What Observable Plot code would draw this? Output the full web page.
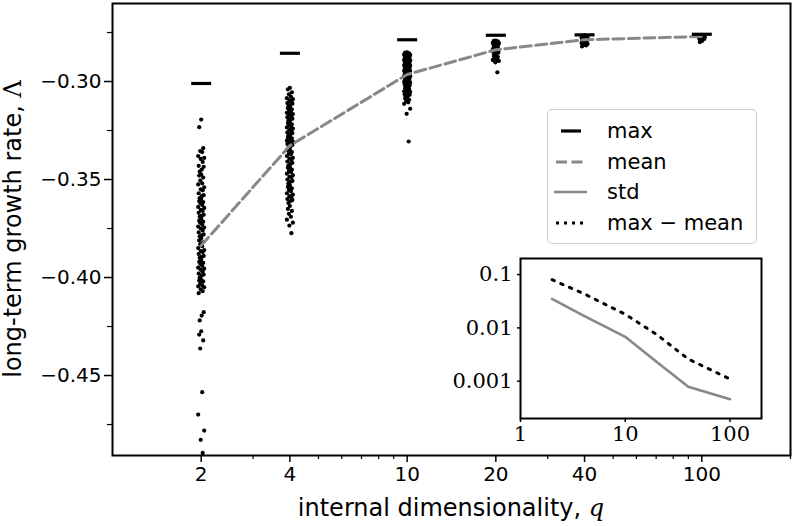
<!DOCTYPE html>
<html><head><meta charset="utf-8">
<script src="https://cdn.jsdelivr.net/npm/d3@7"></script>
<script src="https://cdn.jsdelivr.net/npm/@observablehq/plot@0.6"></script>
<style>
body{margin:0;background:#fff;}
#wrap{position:relative;width:796px;height:526px;overflow:hidden;font-family:"DejaVu Sans",sans-serif;background:#fff;}
#wrap > svg{position:absolute;}
#legend{position:absolute;left:547px;top:109px;width:210px;height:135px;box-sizing:border-box;border:1.5px solid #ccc;border-radius:5px;background:rgba(255,255,255,0.85);}
#legend svg{position:absolute;left:0;top:0;}
</style></head><body><div id="wrap"></div>
<script>
// ---------- data ----------
const qValues = [2, 4, 10, 20, 40, 100];
const maxValues = [-0.301, -0.2856, -0.2787, -0.2764, -0.2762, -0.2759];
const meanValues = [-0.3837, -0.3327, -0.2964, -0.2838, -0.2787, -0.2770];
const stdValues = [0.035, 0.017, 0.0068, 0.0023, 0.00079, 0.00046];
const maxMinusMeanValues = [0.080, 0.044, 0.018, 0.0075, 0.0026, 0.0011];
const yTicks = [-0.30, -0.35, -0.40, -0.45];
const yMinorTicks = [-0.275, -0.325, -0.375, -0.425, -0.475];
const xTicks = [2, 4, 10, 20, 40, 100];
const xMinorTicks = [3, 5, 6, 7, 8, 9, 30, 50, 60, 70, 80, 90, 200];
const insetXTicks = [1, 10, 100];
const insetYTicks = [0.1, 0.01, 0.001];
const insetYLabels = ["0.1", "0.01", "0.001"];

const lambdaQ2 = [-0.3194, -0.3233,
 -0.334, -0.3355, -0.336, -0.338, -0.339, -0.3395, -0.341, -0.343, -0.3435, -0.345, -0.346, -0.3475, -0.348, -0.349, -0.3505, -0.352, -0.3525, -0.354, -0.355, -0.3555, -0.357, -0.358, -0.3585, -0.3595, -0.360, -0.361,
 -0.3615, -0.362, -0.363, -0.364, -0.3645, -0.3655, -0.366, -0.367, -0.368, -0.3685, -0.369, -0.370, -0.371, -0.3715, -0.372, -0.373, -0.374, -0.3745, -0.375, -0.376, -0.377, -0.378, -0.3785, -0.379, -0.380, -0.381, -0.382, -0.383, -0.384, -0.385,
 -0.386, -0.3865, -0.387, -0.388, -0.389, -0.3895, -0.390, -0.391, -0.392, -0.3925, -0.393, -0.394, -0.395, -0.3955, -0.396, -0.397, -0.398, -0.3985, -0.399, -0.400, -0.401, -0.4015, -0.402, -0.403, -0.404, -0.4045, -0.405, -0.406, -0.407, -0.408,
 -0.4177, -0.4194, -0.4219, -0.4274, -0.4291, -0.4321, -0.4362, -0.4585, -0.4699, -0.4781, -0.4828, -0.4895];
const lambdaQ4 = [-0.3032, -0.304, -0.3055, -0.3065, -0.3078,
 -0.3085, -0.309, -0.3098, -0.3102, -0.311, -0.3113, -0.312, -0.3127, -0.313, -0.3136, -0.3142, -0.315, -0.3153, -0.316, -0.3166, -0.317, -0.3178, -0.3182, -0.319, -0.3193, -0.32, -0.3205, -0.3212, -0.3218, -0.3221, -0.323, -0.3234, -0.324, -0.3248, -0.3251, -0.326, -0.3263, -0.327, -0.3276, -0.3281, -0.3285, -0.329, -0.3294, -0.3297, -0.3302, -0.3306, -0.3311, -0.3315, -0.3319, -0.3324,
 -0.3331, -0.334, -0.3347, -0.3352, -0.336, -0.3368, -0.3373, -0.338, -0.3389, -0.3394, -0.34, -0.3408, -0.3415, -0.342, -0.3429, -0.3436, -0.344, -0.345, -0.3457, -0.3463, -0.347, -0.3478, -0.3486, -0.349, -0.35, -0.3507, -0.3512, -0.352, -0.353, -0.3538, -0.3545, -0.3553, -0.356, -0.357, -0.3577, -0.3585, -0.3592, -0.36, -0.3605, -0.361,
 -0.362, -0.3635, -0.365, -0.366, -0.3675, -0.369, -0.3705, -0.372, -0.3735, -0.3774];
const lambdaQ10 = [-0.2851, -0.2853, -0.2856, -0.2858, -0.286, -0.2862, -0.2864, -0.2866, -0.2868, -0.2870, -0.2872, -0.2874, -0.2876, -0.2878, -0.2880,
 -0.2882, -0.2885, -0.2887, -0.2889, -0.2891, -0.2893, -0.2895, -0.2897, -0.2899, -0.2901, -0.2903, -0.2906, -0.2908, -0.291, -0.2912, -0.2914, -0.2916, -0.2918, -0.292, -0.2922, -0.2925, -0.2927, -0.2929, -0.2931, -0.2933, -0.2935, -0.2937, -0.2939, -0.2941, -0.2944, -0.2946, -0.2948, -0.295, -0.2952, -0.2954, -0.2956, -0.2958, -0.296, -0.2963, -0.2965, -0.2967, -0.2969, -0.2971, -0.2973, -0.2975, -0.2977, -0.2979, -0.2982, -0.2984, -0.2986, -0.2988, -0.299, -0.2993, -0.2996, -0.2999,
 -0.3002, -0.3006, -0.301, -0.3013, -0.3017, -0.302, -0.3024, -0.3028, -0.3031, -0.3035, -0.3038, -0.3042, -0.3046, -0.305, -0.3053, -0.3057, -0.3061, -0.3065, -0.3068, -0.3072, -0.3076, -0.308,
 -0.3086, -0.3093, -0.3099, -0.3106, -0.3114, -0.3139, -0.3165, -0.3306];
const lambdaQ20 = [-0.2791, -0.2793, -0.2795, -0.2797, -0.2799, -0.2801, -0.2803, -0.2805, -0.2808, -0.281, -0.2812, -0.2815, -0.2818, -0.282, -0.2823, -0.2826, -0.2829, -0.2832, -0.2835, -0.2838, -0.2841, -0.2845, -0.2849, -0.2853, -0.2857, -0.2861, -0.2866, -0.287, -0.2875, -0.288, -0.2885, -0.289, -0.2895, -0.2902, -0.2953];
const lambdaQ40 = [-0.2765, -0.2767, -0.2769, -0.2771, -0.2773, -0.2775, -0.2777, -0.2779, -0.2781, -0.2783, -0.2785, -0.2787, -0.2789, -0.2791, -0.2793, -0.2795, -0.2798, -0.2801, -0.2804, -0.2808, -0.2812, -0.2816, -0.2821];
const lambdaQ100 = [-0.2762, -0.2764, -0.2766, -0.2768, -0.277, -0.2772, -0.2774, -0.2776, -0.2778, -0.278, -0.2783, -0.2786, -0.279, -0.2794, -0.2799];

// ---------- layout / styling ----------
const W = 796, H = 526, mL = 112, mR = 6, mT = 3, mB = 71;
const xDomain = [1, 200];
const pxPerDecade = (W - mL - mR) / Math.log10(xDomain[1] / xDomain[0]);
const jitterPx = [0, -2, 2, -1, 1, -3, 3, -0.5, 1.5, -2.5, 2.5, 0.5, -1.5];

const groups = [[2, lambdaQ2], [4, lambdaQ4], [10, lambdaQ10], [20, lambdaQ20], [40, lambdaQ40], [100, lambdaQ100]];
const points = [];
groups.forEach(([q, vals]) => vals.forEach((v, i) => points.push({q, v, j: jitterPx[i % jitterPx.length]})));
const summary = qValues.map((q, i) => ({q, max: maxValues[i], mean: meanValues[i], std: stdValues[i], gap: maxMinusMeanValues[i]}));

const hline = {draw(ctx) { ctx.moveTo(-10, 0); ctx.lineTo(10, 0); }};

const main = Plot.plot({
  width: W, height: H, marginLeft: mL, marginRight: mR, marginTop: mT, marginBottom: mB,
  x: {type: "log", domain: xDomain},
  y: {domain: [-0.4908, -0.2602]},
  style: {fontFamily: "DejaVu Sans", fontSize: "20px", color: "black", background: "white"},
  marks: [
    Plot.dot(points, {x: d => d.q * Math.pow(10, d.j / pxPerDecade), y: "v", r: 2.1, fill: "black", stroke: "none", clip: true}),
    Plot.line(summary, {x: "q", y: "mean", stroke: "#888", strokeWidth: 3, strokeDasharray: "11,4.5"}),
    Plot.dot(summary, {x: "q", y: "max", symbol: hline, stroke: "black", strokeWidth: 3.2, fill: "none", r: 10}),
    Plot.axisY({ticks: yTicks, tickFormat: d3.format(".2f"), tickSize: 8, tickPadding: 3, label: null, strokeWidth: 1.5}),
    Plot.axisY({ticks: yMinorTicks, tickFormat: () => "", tickSize: 5, label: null, strokeWidth: 1.2}),
    Plot.axisX({ticks: xTicks, tickFormat: d => String(d), tickSize: 7, tickPadding: 4, label: null, strokeWidth: 1.5}),
    Plot.axisX({ticks: xMinorTicks, tickFormat: () => "", tickSize: 4, label: null, strokeWidth: 1.2}),
    Plot.frame({stroke: "black", strokeWidth: 2})
  ]
});
document.getElementById("wrap").appendChild(main);

// axis titles
const ms = d3.select(main);
const yl = ms.append("text").attr("transform", "translate(13,229) rotate(-90)")
  .attr("text-anchor", "middle").attr("dominant-baseline", "central")
  .style("font-family", "DejaVu Sans").style("font-size", "24px").attr("fill", "black");
yl.append("tspan").text("long-term growth rate, ");
yl.append("tspan").style("font-family", "DejaVu Serif").text("Λ");
const xl = ms.append("text").attr("x", 451).attr("y", 516)
  .attr("text-anchor", "middle")
  .style("font-family", "DejaVu Sans").style("font-size", "24px").attr("fill", "black");
xl.append("tspan").text("internal dimensionality, ");
xl.append("tspan").style("font-family", "DejaVu Serif").style("font-style", "italic").text("q");

// inset
const insetLabelOf = d => insetYLabels[insetYTicks.findIndex(t => Math.abs(t - d) < t * 1e-6)] ?? "";
const inset = Plot.plot({
  width: 340, height: 210, marginLeft: 80, marginTop: 8, marginRight: 19, marginBottom: 42,
  x: {type: "log", domain: [1, 200]},
  y: {type: "log", domain: [0.0002, 0.2]},
  style: {fontFamily: "DejaVu Serif", fontSize: "21px", color: "black", background: "transparent"},
  marks: [
    Plot.frame({fill: "white", stroke: "none"}),
    Plot.line(summary, {x: "q", y: "std", stroke: "#888", strokeWidth: 2.6}),
    Plot.line(summary, {x: "q", y: "gap", stroke: "black", strokeWidth: 3, strokeDasharray: "2.5,7"}),
    Plot.axisX({ticks: insetXTicks, tickFormat: d => String(d), tickSize: 4, tickPadding: 4, label: null, strokeWidth: 1.5}),
    Plot.axisY({ticks: insetYTicks, tickFormat: insetLabelOf, tickSize: 3, tickPadding: 5, label: null, strokeWidth: 1.5}),
    Plot.frame({stroke: "black", strokeWidth: 2})
  ]
});
inset.style.left = "440px"; inset.style.top = "250px";
document.getElementById("wrap").appendChild(inset);

// legend
const legend = d3.select("#wrap").append("div").attr("id", "legend");
const ls = legend.append("svg").attr("width", 210).attr("height", 135);
const entries = [
  {label: "max", x1: 13, x2: 33, stroke: "black", w: 3.2, dash: null},
  {label: "mean", x1: 8, x2: 38, stroke: "#888", w: 3, dash: "11,4.5"},
  {label: "std", x1: 6, x2: 39, stroke: "#888", w: 2.6, dash: null},
  {label: "max − mean", x1: 8, x2: 38, stroke: "black", w: 3, dash: "3,5"}
];
const rowY = [21, 52, 82, 113];
entries.forEach((e, i) => {
  ls.append("line").attr("x1", e.x1).attr("x2", e.x2).attr("y1", rowY[i]).attr("y2", rowY[i])
    .attr("stroke", e.stroke).attr("stroke-width", e.w).attr("stroke-dasharray", e.dash);
  ls.append("text").attr("x", 59).attr("y", rowY[i]).attr("dominant-baseline", "central")
    .style("font-family", "DejaVu Sans").style("font-size", "21px").attr("fill", "black").text(e.label);
});
</script>
</body></html>
